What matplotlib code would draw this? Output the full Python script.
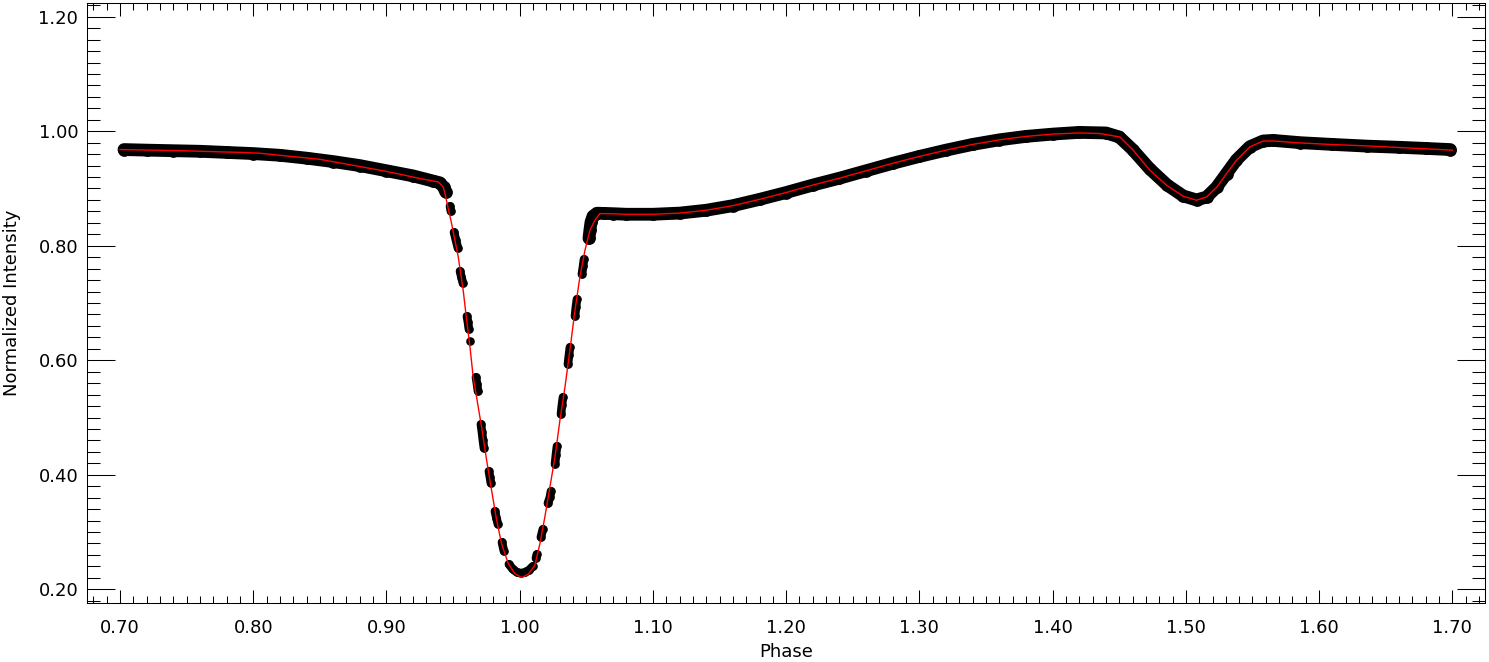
import numpy as np
import matplotlib as mpl
mpl.use('Agg')
import matplotlib.pyplot as plt
from matplotlib.ticker import MultipleLocator, FormatStrFormatter

# Observed light curve, points grouped in runs of continuous phase coverage
obs_phase = [0.703, 0.72, 0.74, 0.76, 0.78, 0.80, 0.82, 0.84, 0.86, 0.88,
             0.90, 0.92, 0.935, 0.940, 0.943, 0.9445,
             0.9477, 0.9484,
             0.9507, 0.9522, 0.9537,
             0.9552, 0.9563, 0.9574,
             0.9604, 0.9612, 0.9619,
             0.9627,
             0.9672, 0.9680, 0.9687,
             0.9709, 0.9717, 0.9724, 0.9732,
             0.9769, 0.9777, 0.9784,
             0.9814, 0.9826, 0.9837,
             0.9867, 0.9882,
             0.9919, 0.9949, 0.9979, 1.0009, 1.0039, 1.0069, 1.0099,
             1.0122, 1.0129,
             1.0159, 1.0174,
             1.0212, 1.0227, 1.0235,
             1.0265, 1.0272, 1.0280,
             1.0310, 1.0317, 1.0325,
             1.0362, 1.0370, 1.0377,
             1.0415, 1.0422, 1.0430,
             1.0467, 1.0476, 1.0483,
             1.0520, 1.0527, 1.0535, 1.0550, 1.0580, 1.063, 1.07, 1.08, 1.10,
             1.12, 1.14, 1.16, 1.18, 1.20, 1.22, 1.24, 1.26, 1.28, 1.30, 1.32,
             1.34, 1.36, 1.38, 1.40, 1.42, 1.44, 1.45, 1.46, 1.473, 1.486,
             1.498, 1.508, 1.5155, 1.523, 1.5305, 1.538, 1.548, 1.558, 1.5655,
             1.586, 1.61, 1.636, 1.66, 1.68, 1.6985]
obs_flux = [0.968, 0.967, 0.966, 0.965, 0.963, 0.961, 0.958, 0.953, 0.947, 0.940,
            0.931, 0.922, 0.913, 0.910, 0.902, 0.894,
            0.869, 0.860,
            0.8236, 0.8096, 0.7956,
            0.7555, 0.7450, 0.7345,
            0.6769, 0.6664, 0.6541,
            0.6332,
            0.5703, 0.5581, 0.5459,
            0.4882, 0.4742, 0.4603, 0.4463,
            0.4061, 0.3956, 0.3852,
            0.3362, 0.3240, 0.3135,
            0.2821, 0.2664,
            0.2437, 0.2349, 0.2297, 0.2279, 0.2297, 0.2332, 0.2402,
            0.2542, 0.2611,
            0.2908, 0.3048,
            0.3502, 0.3607, 0.3712,
            0.4183, 0.4341, 0.4498,
            0.5057, 0.5214, 0.5354,
            0.5930, 0.6087, 0.6227,
            0.6769, 0.6926, 0.7066,
            0.7502, 0.7642, 0.7764,
            0.8131, 0.8271, 0.8410, 0.8515, 0.8568, 0.8565, 0.856, 0.855, 0.855,
            0.857, 0.862, 0.870, 0.881, 0.893, 0.906, 0.918, 0.931, 0.944, 0.956, 0.967,
            0.977, 0.985, 0.991, 0.995, 0.998, 0.997, 0.990, 0.968, 0.934, 0.906,
            0.887, 0.880, 0.885, 0.902, 0.926, 0.950, 0.973, 0.983, 0.984,
            0.980, 0.977, 0.974, 0.972, 0.970, 0.968]
obs_run = [0] * 16 + [1] * 2 + [2] * 3 + [3] * 3 + [4] * 3 + [5] + [6] * 3 + \
          [7] * 4 + [8] * 3 + [9] * 3 + [10] * 2 + [11] * 7 + [12] * 2 + \
          [13] * 2 + [14] * 3 + [15] * 3 + [16] * 3 + [17] * 3 + [18] * 3 + \
          [19] * 3 + [20] * 45

# Model fit (red)
model_phase = [0.700, 0.747, 0.775, 0.792, 0.805, 0.850, 0.8951, 0.9101, 0.925,
               0.9389, 0.9426, 0.9439, 0.9489, 0.9539, 0.9576, 0.9602, 0.9627,
               0.9651, 0.9714, 0.9752, 0.9789, 0.9827, 0.9864, 0.9914, 0.9964,
               1.0015, 1.0064, 1.0077, 1.0114, 1.0152, 1.0189, 1.0227, 1.0265,
               1.0302, 1.0340, 1.0377, 1.0415, 1.0452, 1.0490, 1.0527, 1.0565,
               1.0602, 1.0677, 1.08, 1.10, 1.12, 1.14, 1.16, 1.18, 1.20, 1.22,
               1.24, 1.26, 1.28, 1.30, 1.32, 1.34, 1.36, 1.38, 1.40, 1.42, 1.4355,
               1.4505, 1.4605, 1.473, 1.4855, 1.498, 1.508, 1.5155, 1.523, 1.5305,
               1.538, 1.548, 1.558, 1.5655, 1.5856, 1.6106, 1.6356, 1.6606, 1.70]
model_flux = [0.968, 0.966, 0.964, 0.963, 0.9616, 0.951, 0.932, 0.925, 0.9174,
              0.9115, 0.9027, 0.8912, 0.8388, 0.7804, 0.7223, 0.6699, 0.6232,
              0.5708, 0.4836, 0.4254, 0.3730, 0.3206, 0.2798, 0.2449, 0.2274,
              0.2204, 0.2262, 0.2302, 0.2419, 0.2798, 0.3263, 0.3787, 0.4311,
              0.4952, 0.5534, 0.6175, 0.6873, 0.7455, 0.7921, 0.8271, 0.8446,
              0.8562, 0.8560, 0.855, 0.855, 0.857, 0.862, 0.870, 0.881, 0.893, 0.906,
              0.918, 0.931, 0.944, 0.956, 0.967, 0.977, 0.985, 0.991, 0.995, 0.997, 0.996,
              0.990, 0.9668, 0.9319, 0.9057, 0.8865, 0.8795, 0.8853, 0.9016, 0.926,
              0.9493, 0.9726, 0.983, 0.983, 0.9796, 0.9767, 0.9744, 0.9715, 0.967]

plt.rcParams['font.family'] = ['DejaVu Sans']

fig = plt.figure(figsize=(14.89, 6.62), dpi=100)
ax = fig.add_axes([0.0582, 0.0887, 0.9391, 0.9072])

obs_phase = np.array(obs_phase)
obs_flux = np.array(obs_flux)
obs_run = np.array(obs_run)
for r in np.unique(obs_run):
    sel = obs_run == r
    w = 9.2 if sel.sum() > 8 else 6.2
    ax.plot(obs_phase[sel], obs_flux[sel], color='black', lw=w, marker='o',
            markersize=w, markeredgewidth=0, solid_capstyle='round',
            solid_joinstyle='round', zorder=2)

ax.plot(model_phase, model_flux, color='red', lw=1.0, zorder=3)

ax.set_xlim(0.675, 1.7245)
ax.set_ylim(0.1755, 1.2245)
ax.xaxis.set_major_locator(MultipleLocator(0.1))
ax.xaxis.set_minor_locator(MultipleLocator(0.01))
ax.yaxis.set_major_locator(MultipleLocator(0.2))
ax.yaxis.set_minor_locator(MultipleLocator(0.02))
ax.xaxis.set_major_formatter(FormatStrFormatter('%.2f'))
ax.yaxis.set_major_formatter(FormatStrFormatter('%.2f'))

ax.tick_params(which='both', direction='in', top=True, right=True, width=0.75,
               color='black', labelsize=13, labelcolor='black')
ax.tick_params(axis='x', which='major', length=9.1, pad=11)
ax.tick_params(axis='x', which='minor', length=4.8)
ax.tick_params(axis='y', which='major', length=20.4, pad=6)
ax.tick_params(axis='y', which='minor', length=9.6)
for s in ax.spines.values():
    s.set_linewidth(0.75)

fig.text(785.8 / 1489, 1 - 652 / 662, 'Phase', ha='center', va='center', fontsize=13)
fig.text(12 / 1489, 1 - 303 / 662, 'Normalized Intensity', ha='center', va='center',
         rotation=90, fontsize=13)

plt.savefig('out.png', dpi=100)
